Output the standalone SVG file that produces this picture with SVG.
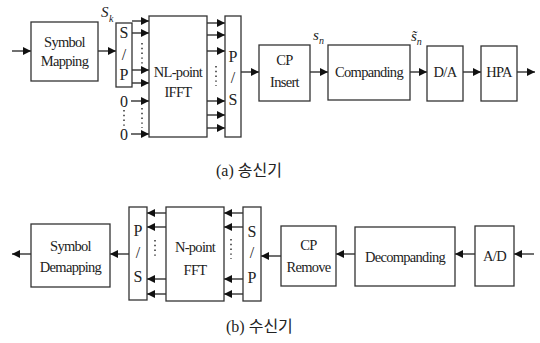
<svg xmlns="http://www.w3.org/2000/svg" width="540" height="343" viewBox="0 0 540 343">
<style>
.b{fill:#fff;stroke:#333;stroke-width:1.3}
.t{font-family:"Liberation Serif",serif;font-size:14.5px;fill:#222;text-anchor:middle;letter-spacing:-0.7px}
.tl{font-family:"Liberation Serif",serif;font-size:16px;fill:#222;text-anchor:middle}
.i{font-family:"Liberation Serif",serif;font-style:italic;font-size:15px;fill:#222}
.sub{font-family:"Liberation Serif",serif;font-style:italic;font-size:10px;fill:#222}
.c{font-family:"Liberation Serif","Noto Sans CJK KR",sans-serif;font-size:16px;fill:#222}
.ar{stroke:#222;stroke-width:1.3;fill:none;marker-end:url(#ah)}
.d{stroke:#222;stroke-width:1.4;stroke-dasharray:1.4 3.4;fill:none}
</style>
<defs>
<marker id="ah" markerWidth="8" markerHeight="8" refX="8" refY="4" orient="auto" markerUnits="userSpaceOnUse">
<path d="M0,0 L8,4 L0,8 Z" fill="#111"/>
</marker>
</defs>

<g id="connectors">
<line class="ar" x1="12" y1="51" x2="31" y2="51"/>
<line class="ar" x1="98" y1="51" x2="116" y2="51"/>
<line class="ar" x1="132" y1="21" x2="149" y2="21"/>
<line class="ar" x1="132" y1="33" x2="149" y2="33"/>
<line class="ar" x1="132" y1="70" x2="149" y2="70"/>
<line class="ar" x1="132" y1="83" x2="149" y2="83"/>
<line class="ar" x1="131" y1="101" x2="149" y2="101"/>
<line class="ar" x1="131" y1="134" x2="149" y2="134"/>
<line class="d" x1="142" y1="43" x2="142" y2="65"/>
<line class="d" x1="142" y1="108" x2="142" y2="128"/>
<line class="d" x1="124" y1="110" x2="124" y2="126"/>
<line class="ar" x1="207" y1="23" x2="225" y2="23"/>
<line class="ar" x1="207" y1="35" x2="225" y2="35"/>
<line class="ar" x1="207" y1="51" x2="225" y2="51"/>
<line class="ar" x1="207" y1="101" x2="225" y2="101"/>
<line class="ar" x1="207" y1="115" x2="225" y2="115"/>
<line class="ar" x1="207" y1="128" x2="225" y2="128"/>
<line class="d" x1="216" y1="66" x2="216" y2="86"/>
<line class="ar" x1="241" y1="72" x2="259" y2="72"/>
<line class="ar" x1="310" y1="72" x2="328" y2="72"/>
<line class="ar" x1="410" y1="72" x2="427" y2="72"/>
<line class="ar" x1="463" y1="72" x2="481" y2="72"/>
<line class="ar" x1="517" y1="72" x2="535" y2="72"/>

<line class="ar" x1="534" y1="254" x2="514" y2="254"/>
<line class="ar" x1="475" y1="254" x2="455" y2="254"/>
<line class="ar" x1="355" y1="254" x2="336" y2="254"/>
<line class="ar" x1="281" y1="256" x2="261" y2="256"/>
<line class="ar" x1="243" y1="213" x2="224" y2="213"/>
<line class="ar" x1="243" y1="227" x2="224" y2="227"/>
<line class="ar" x1="243" y1="279" x2="224" y2="279"/>
<line class="ar" x1="243" y1="294" x2="224" y2="294"/>
<line class="d" x1="231" y1="239" x2="231" y2="259"/>
<line class="ar" x1="166" y1="213" x2="147" y2="213"/>
<line class="ar" x1="166" y1="227" x2="147" y2="227"/>
<line class="ar" x1="166" y1="279" x2="147" y2="279"/>
<line class="ar" x1="166" y1="294" x2="147" y2="294"/>
<line class="d" x1="155" y1="240" x2="155" y2="259"/>
<line class="ar" x1="129" y1="254" x2="110" y2="254"/>
<line class="ar" x1="31" y1="254" x2="12" y2="254"/>
</g>

<g id="symbol-mapping">
<rect class="b" x="31" y="22" width="67" height="59"/>
<text class="t" x="64.5" y="47">Symbol</text>
<text class="t" x="64.5" y="66">Mapping</text>
</g>
<g id="label-sk">
<text class="i" x="101" y="17">S</text>
<text class="sub" x="109" y="22">k</text>
</g>
<g id="sp-tx">
<rect class="b" x="116" y="23" width="16" height="64"/>
<text class="tl" x="124" y="38">S</text>
<text class="tl" x="124" y="60">/</text>
<text class="tl" x="124" y="80">P</text>
</g>
<g id="zeros">
<text class="tl" x="124" y="107">0</text>
<text class="tl" x="124" y="140">0</text>
</g>
<g id="ifft">
<rect class="b" x="149" y="16" width="58" height="121"/>
<text class="t" x="178" y="77">NL-point</text>
<text class="t" x="178" y="97">IFFT</text>
</g>
<g id="ps-tx">
<rect class="b" x="225" y="16" width="16" height="121"/>
<text class="tl" x="233" y="62">P</text>
<text class="tl" x="233" y="83">/</text>
<text class="tl" x="233" y="105">S</text>
</g>
<g id="cp-insert">
<rect class="b" x="259" y="45" width="51" height="56"/>
<text class="t" x="284.5" y="65">CP</text>
<text class="t" x="284.5" y="87">Insert</text>
</g>
<g id="label-sn">
<text class="i" x="313" y="40">s</text>
<text class="sub" x="319" y="44">n</text>
</g>
<g id="companding">
<rect class="b" x="328" y="45" width="82" height="55"/>
<text class="t" x="369" y="77">Companding</text>
</g>
<g id="label-sn-tilde">
<text class="i" x="411" y="41">s&#x303;<tspan class="sub" dy="4">n</tspan></text>
</g>
<g id="da">
<rect class="b" x="427" y="46" width="36" height="55"/>
<text class="t" x="445" y="77">D/A</text>
</g>
<g id="hpa">
<rect class="b" x="481" y="46" width="36" height="55"/>
<text class="t" x="499" y="77">HPA</text>
</g>
<text class="c" x="216" y="176">(a)  송신기</text>

<g id="symbol-demapping">
<rect class="b" x="31" y="224" width="79" height="63"/>
<text class="t" x="70.5" y="251">Symbol</text>
<text class="t" x="70.5" y="272">Demapping</text>
</g>
<g id="ps-rx">
<rect class="b" x="129" y="207" width="18" height="93"/>
<text class="tl" x="138" y="236">P</text>
<text class="tl" x="138" y="258">/</text>
<text class="tl" x="138" y="282">S</text>
</g>
<g id="fft">
<rect class="b" x="166" y="207" width="58" height="94"/>
<text class="t" x="195" y="252">N-point</text>
<text class="t" x="195" y="275">FFT</text>
</g>
<g id="sp-rx">
<rect class="b" x="243" y="207" width="18" height="94"/>
<text class="tl" x="252" y="237">S</text>
<text class="tl" x="252" y="258">/</text>
<text class="tl" x="252" y="283">P</text>
</g>
<g id="cp-remove">
<rect class="b" x="281" y="226" width="55" height="60"/>
<text class="t" x="308.5" y="250">CP</text>
<text class="t" x="308.5" y="272">Remove</text>
</g>
<g id="decompanding">
<rect class="b" x="355" y="227" width="100" height="59"/>
<text class="t" x="405" y="262">Decompanding</text>
</g>
<g id="ad">
<rect class="b" x="475" y="226" width="39" height="60"/>
<text class="t" x="494.5" y="261">A/D</text>
</g>
<text class="c" x="226" y="332">(b)  수신기</text>
</svg>
